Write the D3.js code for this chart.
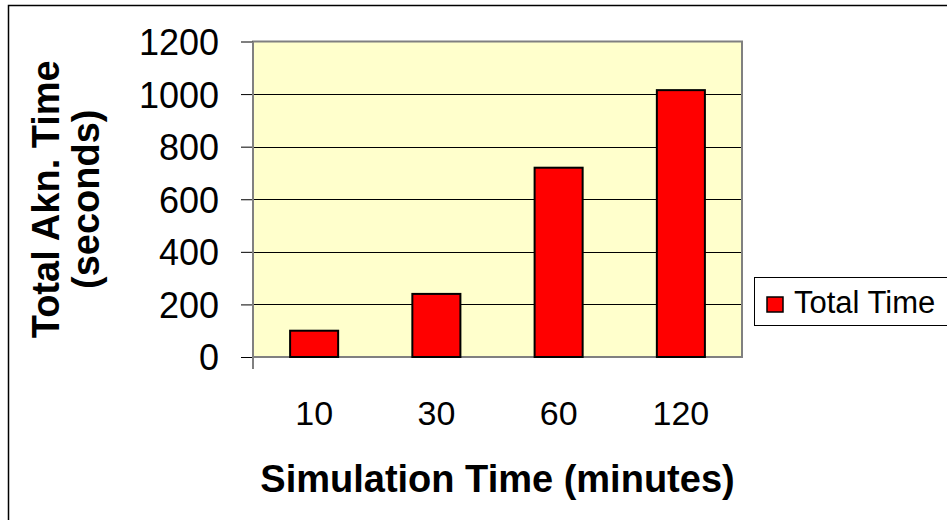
<!DOCTYPE html>
<html>
<head>
<meta charset="utf-8">
<script src="https://cdn.jsdelivr.net/npm/d3@7"></script>
<style>
  body { margin: 0; background: #fff; }
  svg { display: block; font-family: Arial, "Liberation Sans", sans-serif; }
</style>
</head>
<body>
<div id="chart"></div>
<script>
// data
var categories = ["10", "30", "60", "120"];
var totalTime = [100, 240, 720, 1015];
var yTicks = [0, 200, 400, 600, 800, 1000, 1200];
var seriesName = "Total Time";

var width = 947,
    height = 520,
    plot = { left: 253, right: 742, top: 41.5, bottom: 357 };

var svg = d3.select("#chart").append("svg")
    .attr("width", width)
    .attr("height", height);

// outer chart border (right and bottom edges run off the page)
svg.append("rect")
    .attr("x", 8.5)
    .attr("y", 5.5)
    .attr("width", width + 20)
    .attr("height", height + 20)
    .attr("fill", "#fff")
    .attr("stroke", "#000")
    .attr("stroke-width", 1.5);

var x = d3.scaleBand()
    .domain(categories)
    .range([plot.left, plot.right])
    .paddingInner(0.607)
    .paddingOuter(0.3035);

var y = d3.scaleLinear()
    .domain([0, 1200])
    .range([plot.bottom, plot.top]);

// plot area background
svg.append("rect")
    .attr("x", plot.left)
    .attr("y", plot.top)
    .attr("width", plot.right - plot.left)
    .attr("height", plot.bottom - plot.top)
    .attr("fill", "#ffffcc");

// gridlines
svg.append("g")
    .selectAll("line")
    .data(yTicks.filter(d => d > 0 && d < 1200))
    .join("line")
    .attr("x1", plot.left)
    .attr("x2", plot.right)
    .attr("y1", d => Math.round(y(d)) + 0.5)
    .attr("y2", d => Math.round(y(d)) + 0.5)
    .attr("stroke", "#000")
    .attr("stroke-width", 1);

// plot area border
svg.append("rect")
    .attr("x", plot.left)
    .attr("y", plot.top)
    .attr("width", plot.right - plot.left)
    .attr("height", plot.bottom - plot.top)
    .attr("fill", "none")
    .attr("stroke", "#808080")
    .attr("stroke-width", 2);

// bars
svg.append("g")
    .selectAll("rect")
    .data(totalTime)
    .join("rect")
    .attr("x", (d, i) => x(categories[i]))
    .attr("y", d => y(d))
    .attr("width", x.bandwidth())
    .attr("height", d => y(0) - y(d))
    .attr("fill", "#ff0000")
    .attr("stroke", "#000")
    .attr("stroke-width", 2);

// y axis
var yAxis = svg.append("g")
    .attr("transform", `translate(${plot.left},0)`)
    .call(d3.axisLeft(y).tickValues(yTicks).tickFormat(d3.format("d")).tickSize(12).tickPadding(22));

yAxis.select(".domain").remove();
yAxis.selectAll("line").attr("stroke", "#000");
yAxis.selectAll("text")
    .attr("fill", "#000")
    .style("font-size", "36px")
    .attr("dy", "0.36em");

// y axis line, running a little below the plot
svg.append("line")
    .attr("x1", plot.left)
    .attr("x2", plot.left)
    .attr("y1", plot.top)
    .attr("y2", plot.bottom + 12)
    .attr("stroke", "#808080")
    .attr("stroke-width", 2);

// x axis labels
var xAxis = svg.append("g")
    .attr("transform", `translate(0,${plot.bottom})`)
    .call(d3.axisBottom(x).tickSize(0).tickPadding(68));

xAxis.select(".domain").remove();
xAxis.selectAll("text")
    .attr("fill", "#000")
    .attr("dy", "0")
    .style("font-size", "34px");

// axis titles
svg.append("text")
    .attr("x", (plot.left + plot.right) / 2)
    .attr("y", 492)
    .attr("text-anchor", "middle")
    .style("font-size", "38px")
    .style("font-weight", "bold")
    .text("Simulation Time (minutes)");

var yTitle = svg.append("text")
    .attr("transform", `translate(59,${(plot.top + plot.bottom) / 2}) rotate(-90)`)
    .attr("text-anchor", "middle")
    .style("font-size", "38px")
    .style("font-weight", "bold");

yTitle.append("tspan")
    .attr("x", 0)
    .attr("y", 0)
    .text("Total Akn. Time");
yTitle.append("tspan")
    .attr("x", 0)
    .attr("y", 40)
    .text("(seconds)");

// legend
var legend = svg.append("g");

legend.append("rect")
    .attr("x", 754.5)
    .attr("y", 277.5)
    .attr("width", 220)
    .attr("height", 48)
    .attr("fill", "#fff")
    .attr("stroke", "#000")
    .attr("stroke-width", 1);

legend.append("rect")
    .attr("x", 767)
    .attr("y", 297)
    .attr("width", 16)
    .attr("height", 15)
    .attr("fill", "#ff0000")
    .attr("stroke", "#000")
    .attr("stroke-width", 1.5);

legend.append("text")
    .attr("x", 794)
    .attr("y", 313)
    .style("font-size", "31px")
    .text(seriesName);
</script>
</body>
</html>
